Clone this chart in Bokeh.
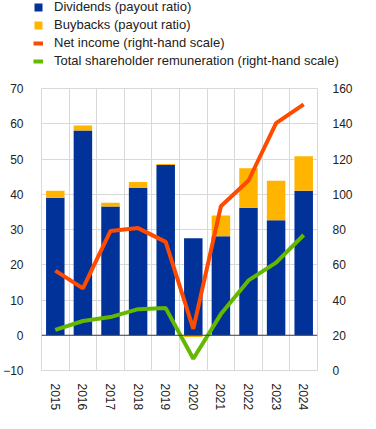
from bokeh.plotting import figure
from bokeh.layouts import column
from bokeh.models import Range1d, LinearAxis, FixedTicker, Span, Legend, LegendItem, ColumnDataSource
from bokeh.embed import file_html
from bokeh.resources import INLINE

years = [2015, 2016, 2017, 2018, 2019, 2020, 2021, 2022, 2023, 2024]
dividends = [39.0, 58.1, 36.5, 41.8, 48.3, 27.5, 28.1, 36.2, 32.6, 41.0]
buybacks = [2.0, 1.4, 1.1, 1.7, 0.3, -0.5, 5.9, 11.2, 11.2, 9.8]
net_income = [56.7, 46.6, 79.2, 80.8, 73.0, 23.6, 93.2, 107.8, 140.4, 151.0]
total_remuneration = [23.0, 28.1, 30.3, 34.8, 35.4, 6.7, 32.0, 51.1, 61.2, 76.9]
left_ticks = [-10, 0, 10, 20, 30, 40, 50, 60, 70]
right_ticks = [0, 20, 40, 60, 80, 100, 120, 140, 160]
series_labels = ["Dividends (payout ratio)", "Buybacks (payout ratio)",
                 "Net income (right-hand scale)",
                 "Total shareholder remuneration (right-hand scale)"]

FONT = "Liberation Sans"
GRID = "#d9d9d9"
TXT = "#222222"
C_DIV, C_BB, C_NI, C_TR = "#003299", "#FFB400", "#FF4B00", "#65B800"

bb_bottom = [d if b >= 0 else 0 for d, b in zip(dividends, buybacks)]
bb_top = [d + b if b >= 0 else b for d, b in zip(dividends, buybacks)]

src = ColumnDataSource(dict(year=years, div=dividends, bb_bottom=bb_bottom, bb_top=bb_top,
                            ni=net_income, tr=total_remuneration))

# ---------- main chart ----------
p = figure(width=360, height=335, output_backend="svg", toolbar_location=None,
           x_range=Range1d(years[0] - 0.5, years[-1] + 0.5),
           y_range=Range1d(left_ticks[0], left_ticks[-1]),
           min_border_left=33, min_border_right=43, min_border_top=10, min_border_bottom=40)
p.extra_y_ranges = {"right": Range1d(right_ticks[0], right_ticks[-1])}

p.outline_line_color = GRID
p.background_fill_color = "white"
p.border_fill_color = "white"

p.xgrid.ticker = FixedTicker(ticks=[y - 0.5 for y in years] + [years[-1] + 0.5])
p.xgrid.grid_line_color = GRID
p.ygrid.ticker = FixedTicker(ticks=left_ticks)
p.ygrid.grid_line_color = GRID

p.xaxis.ticker = FixedTicker(ticks=years)
p.xaxis.major_label_orientation = "vertical"
p.yaxis.ticker = FixedTicker(ticks=left_ticks)
right_axis = LinearAxis(y_range_name="right", ticker=FixedTicker(ticks=right_ticks))
p.add_layout(right_axis, "right")
for ax in p.axis:
    ax.axis_line_color = None
    ax.major_tick_line_color = None
    ax.minor_tick_line_color = None
    ax.major_label_text_font = FONT
    ax.major_label_text_font_size = "12px"
    ax.major_label_text_color = TXT
p.yaxis[0].major_label_standoff = 12
right_axis.major_label_standoff = 9
p.xaxis.major_label_standoff = 7

p.vbar(x="year", top="div", bottom=0, width=0.67, source=src,
       fill_color=C_DIV, line_color=None)
p.vbar(x="year", top="bb_top", bottom="bb_bottom", width=0.67, source=src,
       fill_color=C_BB, line_color=None)

p.add_layout(Span(location=0, dimension="width", line_color="#404040", line_width=1))

p.line(x="year", y="ni", source=src, y_range_name="right", line_color=C_NI, line_width=4)
p.line(x="year", y="tr", source=src, y_range_name="right", line_color=C_TR, line_width=4)

# ---------- legend strip (same data, y range keeps the marks out of view) ----------
lg = figure(width=360, height=78, output_backend="svg", toolbar_location=None,
            x_range=Range1d(years[0] - 0.5, years[-1] + 0.5), y_range=Range1d(200, 300),
            min_border_left=0, min_border_right=0, min_border_top=0, min_border_bottom=0)
lg.frame_align = False
lg.axis.visible = False
lg.grid.visible = False
lg.outline_line_color = None
l1 = lg.vbar(x="year", top="div", width=0.67, source=src, fill_color=C_DIV, line_color=None)
l2 = lg.vbar(x="year", top="bb_top", bottom="bb_bottom", width=0.67, source=src,
             fill_color=C_BB, line_color=None)
l3 = lg.line(x="year", y="ni", source=src, line_color=C_NI, line_width=4)
l4 = lg.line(x="year", y="tr", source=src, line_color=C_TR, line_width=4)

legend = Legend(items=[LegendItem(label=t, renderers=[r])
                       for t, r in zip(series_labels, [l1, l2, l3, l4])],
                location=(33, 10))
legend.glyph_width = 10
legend.glyph_height = 10
legend.label_height = 14
legend.spacing = 3
legend.padding = 0
legend.margin = 0
legend.label_standoff = 11
legend.border_line_color = None
legend.background_fill_alpha = 0
legend.label_text_font = FONT
legend.label_text_font_size = "13px"
legend.label_text_color = TXT
lg.add_layout(legend, "center")

layout = column(lg, p, spacing=0)
open("out.html", "w").write(file_html(layout, INLINE))
